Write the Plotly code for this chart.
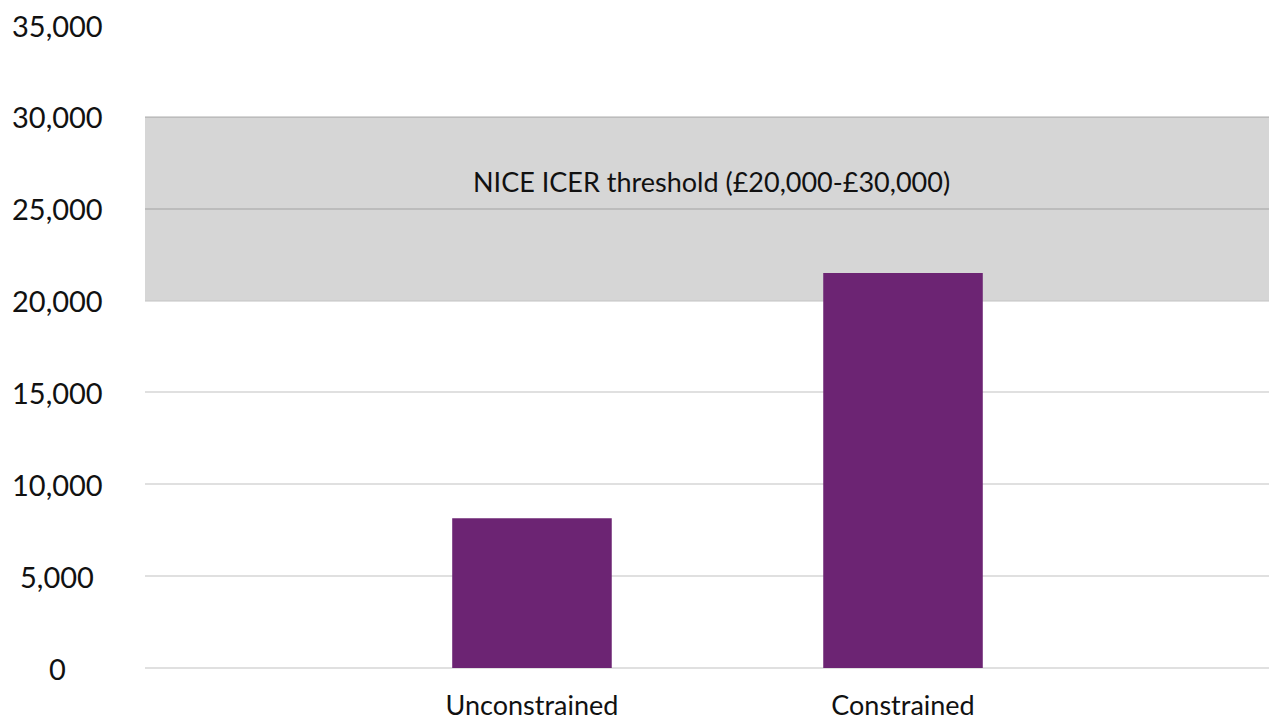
import plotly.graph_objects as go

# ── data ────────────────────────────────────────────────────────────────
categories = ["Unconstrained", "Constrained"]
icer_values = [8150, 21500]
threshold_band = [20000, 30000]
threshold_label = "NICE ICER threshold (£20,000-£30,000)"
y_ticks = [0, 5000, 10000, 15000, 20000, 25000, 30000, 35000]

FONT = "Lato, 'Open Sans', sans-serif"
BAR_COLOR = "#6c2473"
BAND_COLOR = "#d6d6d6"
GRID = "rgba(0,0,0,0.12)"

fig = go.Figure()
fig.add_trace(go.Bar(
    x=categories,
    y=icer_values,
    marker=dict(color=BAR_COLOR, line_width=0),
    width=0.43,
    showlegend=False,
    hoverinfo="x+y",
))

# threshold band, full width of the plot area
fig.add_shape(
    type="rect", xref="paper", x0=0, x1=1,
    yref="y", y0=threshold_band[0], y1=threshold_band[1],
    fillcolor=BAND_COLOR, line_width=0, layer="below",
)
fig.add_annotation(
    xref="paper", x=0.5, yref="y", y=26500,
    text=threshold_label, showarrow=False,
    font=dict(family=FONT, size=27, color="#111111"),
)

# y tick labels, centred like the original
for t in y_ticks:
    fig.add_annotation(
        xref="paper", x=-0.0777, yref="y", y=t,
        text=f"{t:,}", showarrow=False, xanchor="center",
        font=dict(family=FONT, size=29, color="#111111"),
    )

# page body has an 8px margin, so margins are trimmed to compensate
fig.update_layout(
    width=1277, height=722,
    margin=dict(l=137, r=8, t=17, b=62),
    paper_bgcolor="white",
    plot_bgcolor="white",
    font=dict(family=FONT, color="#111111"),
    xaxis=dict(
        type="category",
        range=[-1.043, 2.008],
        showgrid=False, zeroline=False, showline=False,
        ticks="", tickfont=dict(size=27),
        ticklabelstandoff=19,
    ),
    yaxis=dict(
        range=[0, 35000],
        tickvals=y_ticks,
        showticklabels=False,
        gridcolor=GRID, gridwidth=1.5,
        zeroline=True, zerolinecolor=GRID, zerolinewidth=1.5,
        showline=False, ticks="",
    ),
)

fig.write_html("out.html")
